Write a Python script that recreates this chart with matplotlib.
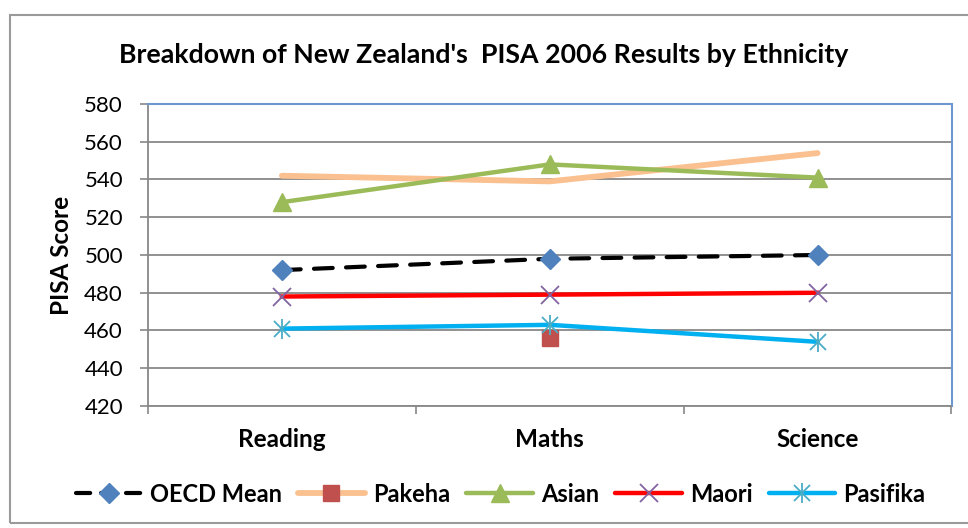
import matplotlib
matplotlib.use("Agg")
import matplotlib.pyplot as plt
from matplotlib.lines import Line2D
from matplotlib.patches import Rectangle
from matplotlib.legend_handler import HandlerTuple

categories = ["Reading", "Maths", "Science"]
oecd_mean = [492, 498, 500]
pakeha = [542, 539, 554]
pakeha_marker_x = ["Maths"]
pakeha_marker_y = [456]
asian = [528, 548, 541]
maori = [478, 479, 480]
pasifika = [461, 463, 454]
y_ticks = [420, 440, 460, 480, 500, 520, 540, 560, 580]

plt.rcParams['font.family'] = ['Lato', 'DejaVu Sans']

fig = plt.figure(figsize=(9.68, 5.28), dpi=100)
fig.patch.set_facecolor("white")
fig.add_artist(Rectangle((10/968, 5/528), 1.0, 1 - 15/528 - 5/528,
                         transform=fig.transFigure, fill=False,
                         edgecolor="#9a9a9a", linewidth=1.5))

ax = fig.add_axes([148/968, 1 - 406/528, (951.5 - 148)/968, (406 - 104)/528])
x = list(range(len(categories)))

c_oecd = "black"
c_pak = "#FAC090"
c_asian = "#9BBB59"
c_maori = "#FF0000"
c_pas = "#00B0F0"
dash = (0, (4.5, 3.2))

ax.plot(x, pakeha, color=c_pak, lw=4.2, solid_capstyle="round", zorder=3)
ax.plot(x, asian, color=c_asian, lw=3.2, solid_capstyle="round", zorder=4)
ax.plot(x, oecd_mean, color=c_oecd, lw=3.0, linestyle=dash,
        dash_capstyle="round", zorder=4)
ax.plot(x, maori, color=c_maori, lw=3.2, zorder=4)
ax.plot(x, pasifika, color=c_pas, lw=3.2, solid_capstyle="round", zorder=4)

ax.plot(x, asian, linestyle="none", marker="^", ms=13, color=c_asian, zorder=5)
ax.plot(x, oecd_mean, linestyle="none", marker="D", ms=10, color="#4F81BD", zorder=5)
ax.plot(x, maori, linestyle="none", marker="x", ms=13, mew=1.3, color="#8064A2", zorder=5)
ax.plot(x, pasifika, linestyle="none", marker="x", ms=11, mew=1.3, color="#4BACC6", zorder=5)
ax.plot(x, pasifika, linestyle="none", marker="|", ms=15, mew=1.3, color="#4BACC6", zorder=5)
px = [categories.index(c) for c in pakeha_marker_x]
ax.plot(px, pakeha_marker_y, linestyle="none", marker="s", ms=12, color="#C0504D", zorder=3)

ax.set_xlim(-0.5, len(categories) - 0.5)
ax.set_ylim(420, 580)
ax.set_yticks(y_ticks)
ax.set_yticklabels([str(v) for v in y_ticks], fontsize=16)
ax.set_xticks(x)
ax.set_xticklabels(categories, fontsize=17.5, fontweight="bold")
ax.set_xticks([i - 0.5 for i in range(len(categories) + 1)], minor=True)
ax.tick_params(axis="x", which="major", length=0, pad=16)
ax.tick_params(axis="x", which="minor", length=6, width=1.2, color="#888888")
ax.tick_params(axis="y", length=6, width=1.2, color="#888888", pad=12)

ax.grid(axis="y", color="#888888", linewidth=1.3, zorder=1)
ax.set_axisbelow(True)
for s in ["left", "bottom"]:
    ax.spines[s].set_color("#888888")
    ax.spines[s].set_linewidth(1.3)
for s in ["top", "right"]:
    ax.spines[s].set_color("#6F97CF")
    ax.spines[s].set_linewidth(1.5)

ax.set_ylabel("PISA Score", fontsize=17.5, fontweight="bold", labelpad=8)
fig.text(0.5, 1 - 55/528, "Breakdown of New Zealand's  PISA 2006 Results by Ethnicity",
         ha="center", va="center", fontsize=19.3, fontweight="bold")

h_oecd = (Line2D([], [], color=c_oecd, lw=3.0, linestyle=(0, (3.4, 2.6)), dash_capstyle="round"),
          Line2D([], [], linestyle="none", marker="D", ms=10, color="#4F81BD"))
h_pak = (Line2D([], [], color=c_pak, lw=4.2, solid_capstyle="round"),
         Line2D([], [], linestyle="none", marker="s", ms=12, color="#C0504D"))
h_asian = (Line2D([], [], color=c_asian, lw=3.2, solid_capstyle="round"),
           Line2D([], [], linestyle="none", marker="^", ms=13, color=c_asian))
h_maori = (Line2D([], [], color=c_maori, lw=3.2, solid_capstyle="round"),
           Line2D([], [], linestyle="none", marker="x", ms=13, mew=1.3, color="#8064A2"))
h_pas = (Line2D([], [], color=c_pas, lw=3.2, solid_capstyle="round"),
         Line2D([], [], linestyle="none", marker="x", ms=11, mew=1.3, color="#4BACC6"),
         Line2D([], [], linestyle="none", marker="|", ms=15, mew=1.3, color="#4BACC6"))
leg = fig.legend([h_oecd, h_pak, h_asian, h_maori, h_pas],
                 ["OECD Mean", "Pakeha", "Asian", "Maori", "Pasifika"],
                 handler_map={tuple: HandlerTuple(ndivide=1)},
                 loc="center", bbox_to_anchor=(0.517, 1 - 494/528), ncol=5,
                 frameon=False, prop={"size": 17, "weight": "bold"},
                 handlelength=2.8, handletextpad=0.35, columnspacing=0.7)

fig.savefig("out.png", dpi=100, facecolor="white")
